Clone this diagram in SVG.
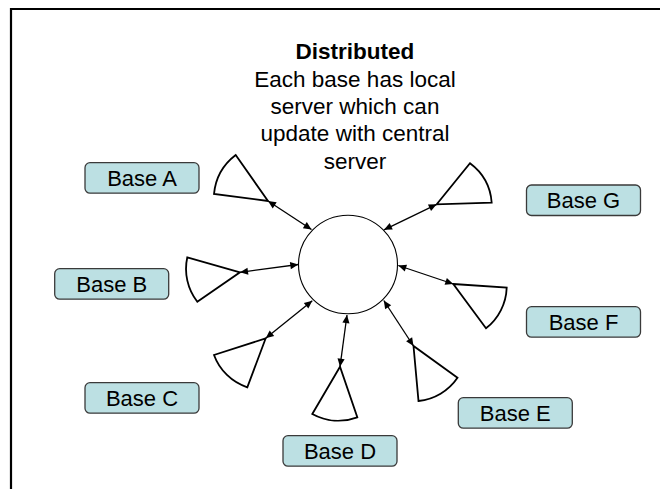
<svg xmlns="http://www.w3.org/2000/svg" width="660" height="489" viewBox="0 0 660 489">
<defs>
<style>
.frame{fill:none;stroke:#000;stroke-width:2.2}
.box{fill:#BCE0E3;stroke:#3a3a3a;stroke-width:1.3}
.lbl{font-family:"Liberation Sans",Arial,sans-serif;font-size:22px;fill:#000;text-anchor:middle}
.title{font-family:"Liberation Sans",Arial,sans-serif;font-size:22.5px;fill:#000;text-anchor:middle}
.sector{fill:#fff;stroke:#000;stroke-width:1.8;stroke-linejoin:miter}
.conn{fill:none;stroke:#000;stroke-width:1.3;marker-start:url(#ah);marker-end:url(#ah)}
.hub{fill:#fff;stroke:#000;stroke-width:1.1}
</style>
<marker id="ah" viewBox="0 0 10 10" refX="10" refY="5" markerWidth="10" markerHeight="8" markerUnits="userSpaceOnUse" orient="auto-start-reverse">
<path d="M0,0.5 L10,5 L0,9.5 Z" fill="#000"/>
</marker>
</defs>
<rect width="660" height="489" fill="#fff"/>
<path class="frame" d="M11,489 V9 H660"/>

<g id="title">
<text class="title" x="355" y="59" font-weight="bold">Distributed</text>
<text class="title" x="355" y="87">Each base has local</text>
<text class="title" x="355" y="114">server which can</text>
<text class="title" x="355" y="141">update with central</text>
<text class="title" x="355" y="168.5">server</text>
</g>

<g id="central-server">
<ellipse class="hub" cx="348" cy="264.5" rx="49.5" ry="49.3"/>
</g>

<g id="sector-A"><path class="sector" d="M268,201 L235.7,155 A55.5,55.5 0 0 0 214,194 Z"/></g>
<g id="sector-B"><path class="sector" d="M240,272.3 L187.3,257.3 A53.5,53.5 0 0 0 197.3,301.7 Z"/></g>
<g id="sector-C"><path class="sector" d="M265.7,338.3 L214,355 A53.5,53.5 0 0 0 247.3,387.3 Z"/></g>
<g id="sector-D"><path class="sector" d="M340,366.7 L312.3,414 A54,54 0 0 0 357.3,417.3 Z"/></g>
<g id="sector-E"><path class="sector" d="M413.5,346 L418.5,401 A54,54 0 0 0 457.5,377.7 Z"/></g>
<g id="sector-F"><path class="sector" d="M453.3,284 L506.7,287.7 A54,54 0 0 1 486,328.3 Z"/></g>
<g id="sector-G"><path class="sector" d="M436.7,204.3 L470,163.3 A54,54 0 0 1 491.7,202.7 Z"/></g>

<g id="connectors">
<line class="conn" x1="268" y1="201" x2="311.5" y2="229.5"/>
<line class="conn" x1="436.7" y1="204.3" x2="384" y2="229.8"/>
<line class="conn" x1="240" y1="272.3" x2="298.3" y2="264.5"/>
<line class="conn" x1="453.3" y1="284" x2="398.3" y2="265.5"/>
<line class="conn" x1="265.7" y1="338.3" x2="312.3" y2="300.7"/>
<line class="conn" x1="340" y1="366.7" x2="347" y2="315"/>
<line class="conn" x1="413.5" y1="346" x2="383.8" y2="300.5"/>
</g>

<g id="base-A"><rect class="box" x="85" y="162.7" width="114" height="30.5" rx="5"/><text class="lbl" x="142" y="185.7">Base A</text></g>
<g id="base-B"><rect class="box" x="54.7" y="268.7" width="114" height="30.5" rx="5"/><text class="lbl" x="111.7" y="291.7">Base B</text></g>
<g id="base-C"><rect class="box" x="85" y="382.7" width="114" height="30.5" rx="5"/><text class="lbl" x="142" y="405.7">Base C</text></g>
<g id="base-D"><rect class="box" x="283" y="435.7" width="114" height="30.5" rx="5"/><text class="lbl" x="340" y="458.7">Base D</text></g>
<g id="base-E"><rect class="box" x="458.3" y="397.7" width="114" height="30.5" rx="5"/><text class="lbl" x="515.3" y="420.7">Base E</text></g>
<g id="base-F"><rect class="box" x="526.5" y="306.7" width="114" height="30.5" rx="5"/><text class="lbl" x="583.5" y="329.7">Base F</text></g>
<g id="base-G"><rect class="box" x="526.5" y="185" width="114" height="30.5" rx="5"/><text class="lbl" x="583.5" y="208">Base G</text></g>
</svg>
